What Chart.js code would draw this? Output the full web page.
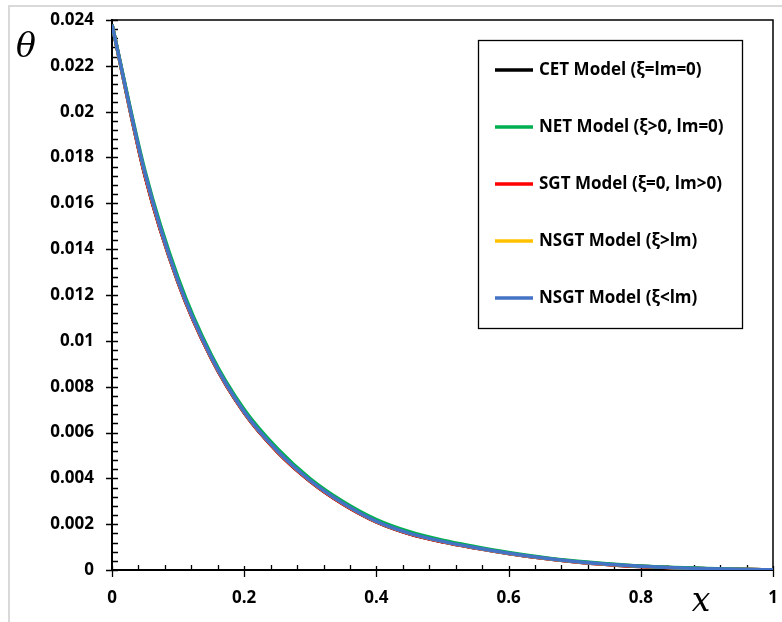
<!DOCTYPE html>
<html>
<head>
<meta charset="utf-8">
<script src="https://cdn.jsdelivr.net/npm/chart.js@4/dist/chart.umd.min.js"></script>
<style>
  html, body { margin: 0; padding: 0; background: #fff; }
  #wrap { position: relative; width: 782px; height: 622px; }
  #frame { position: absolute; left: 8px; top: 5px; right: -10px; bottom: -10px;
           border-left: 2px solid #d9d9d9; border-top: 2px solid #d9d9d9; }
  canvas { position: absolute; left: 0; top: 0; }
</style>
</head>
<body>
<div id="wrap">
  <div id="frame"></div>
  <canvas id="chart" width="782" height="622"></canvas>
</div>
<script>
// Dimensionless position along the body
const xValues = [0, 0.05, 0.1, 0.15, 0.2, 0.25, 0.3, 0.35, 0.4, 0.45, 0.5,
                 0.55, 0.6, 0.65, 0.7, 0.75, 0.8, 0.85, 0.9, 0.95, 1];

// Temperature θ for each thermoelastic model
const cetTheta    = [0.0238, 0.0172, 0.01255, 0.00925, 0.00686, 0.00516, 0.00387, 0.00287, 0.0021, 0.00158, 0.00123,
                     0.00096, 0.00072, 0.00052, 0.00036, 0.00024, 0.00015, 0.0001, 0.00006, 0.00003, 0.00001];
const netTheta    = [0.0238, 0.0174, 0.01275, 0.0094, 0.0070, 0.0053, 0.00398, 0.00298, 0.0022, 0.00167, 0.0013,
                     0.00102, 0.00077, 0.00056, 0.00039, 0.00027, 0.00017, 0.00011, 0.00007, 0.00003, 0.00001];
const sgtTheta    = [0.0238, 0.0172, 0.01255, 0.00925, 0.00686, 0.00516, 0.00387, 0.00287, 0.0021, 0.00158, 0.00123,
                     0.00096, 0.00072, 0.00052, 0.00036, 0.00024, 0.00015, 0.0001, 0.00006, 0.00003, 0.00001];
const nsgtGtTheta = [0.0238, 0.0173, 0.0126, 0.0093, 0.0069, 0.0052, 0.0039, 0.0029, 0.00212, 0.0016, 0.00125,
                     0.00097, 0.00073, 0.00053, 0.00037, 0.00025, 0.00016, 0.0001, 0.00006, 0.00003, 0.00001];
const nsgtLtTheta = [0.0238, 0.0173, 0.0126, 0.0093, 0.0069, 0.0052, 0.0039, 0.0029, 0.00212, 0.0016, 0.00125,
                     0.00097, 0.00073, 0.00053, 0.00037, 0.00025, 0.00016, 0.0001, 0.00006, 0.00003, 0.00001];

const seriesLabels = ['CET Model (ξ=lm=0)', 'NET Model (ξ>0, lm=0)', 'SGT Model (ξ=0, lm>0)',
                      'NSGT Model (ξ>lm)', 'NSGT Model (ξ<lm)'];
const seriesColors = ['#000000', '#00b050', '#ff0000', '#ffc000', '#4472c4'];
const seriesData = [cetTheta, netTheta, sgtTheta, nsgtGtTheta, nsgtLtTheta];
const drawOrder = [4, 1, 3, 2, 0]; // blue on top, green just beneath

const fmt = v => String(Number(Number(v).toFixed(4)));

// Minor/major tick marks, the top/right frame, axis symbols and the boxed legend
const axisMarks = {
  id: 'axisMarks',
  beforeDatasetsDraw(chart) {
    const { ctx, chartArea: a, scales: { x, y } } = chart;
    ctx.save();
    ctx.strokeStyle = '#000';
    ctx.lineWidth = 1.5;
    ctx.beginPath();
    ctx.moveTo(a.left, a.top); ctx.lineTo(a.right, a.top); ctx.lineTo(a.right, a.bottom);
    ctx.stroke();
    ctx.lineWidth = 1.3;
    ctx.beginPath();
    for (let i = 0; i <= 60; i++) {
      const py = Math.round(y.getPixelForValue(i * 0.0004)) + 0.5;
      if (i % 5 === 0) { ctx.moveTo(a.left - 6, py); ctx.lineTo(a.left + 6, py); }
      else { ctx.moveTo(a.left, py); ctx.lineTo(a.left + 6, py); }
    }
    for (let i = 0; i <= 25; i++) {
      const px = Math.round(x.getPixelForValue(i * 0.04)) + 0.5;
      if (i % 5 === 0) { ctx.moveTo(px, a.bottom - 4); ctx.lineTo(px, a.bottom + 7); }
      else { ctx.moveTo(px, a.bottom - 5); ctx.lineTo(px, a.bottom); }
    }
    ctx.stroke();
    ctx.restore();
  },
  afterDraw(chart) {
    const { ctx } = chart;
    ctx.save();
    ctx.fillStyle = '#000';
    ctx.font = 'italic 33px "DejaVu Serif"';
    ctx.textAlign = 'center';
    ctx.textBaseline = 'alphabetic';
    ctx.fillText('θ', 26, 57);
    ctx.fillText('x', 701, 611);

    const bx = 478, by = 40, bw = 264, bh = 288;
    ctx.fillStyle = '#fff';
    ctx.fillRect(bx, by, bw, bh);
    ctx.strokeStyle = '#000';
    ctx.lineWidth = 1.3;
    ctx.strokeRect(bx + 0.5, by + 0.5, bw, bh);
    ctx.font = 'bold 17px "Open Sans"';
    ctx.textAlign = 'left';
    ctx.textBaseline = 'middle';
    chart.data.datasets.forEach((ds, i) => {
      const ry = 70 + i * 57;
      ctx.strokeStyle = ds.borderColor;
      ctx.lineWidth = 3.5;
      ctx.beginPath(); ctx.moveTo(495, ry); ctx.lineTo(533, ry); ctx.stroke();
      ctx.fillStyle = '#000';
      ctx.fillText(ds.label, 539, ry);
    });
    ctx.restore();
  }
};

new Chart(document.getElementById('chart'), {
  type: 'line',
  data: {
    datasets: seriesData.map((arr, i) => ({
      label: seriesLabels[i],
      data: xValues.map((xv, k) => ({ x: xv, y: arr[k] })),
      borderColor: seriesColors[i],
      backgroundColor: seriesColors[i],
      borderWidth: 3.5,
      pointRadius: 0,
      cubicInterpolationMode: 'monotone',
      order: drawOrder[i]
    }))
  },
  options: {
    responsive: false,
    animation: false,
    layout: { padding: { top: 20, right: 9, left: 0, bottom: 0 } },
    plugins: { legend: { display: false }, tooltip: { enabled: false } },
    scales: {
      x: {
        type: 'linear', min: 0, max: 1,
        afterFit: s => { s.height = 52; s.paddingLeft = 0; s.paddingRight = 0; },
        grid: { display: false, drawTicks: false },
        border: { display: true, color: '#000', width: 2 },
        ticks: { stepSize: 0.2, padding: 18, color: '#000', maxRotation: 0,
                 font: { family: 'Open Sans', size: 17, weight: 'bold' }, callback: v => fmt(v) }
      },
      y: {
        type: 'linear', min: 0, max: 0.024,
        afterFit: s => { s.width = 112; s.paddingTop = 0; s.paddingBottom = 0; },
        grid: { display: false, drawTicks: false },
        border: { display: true, color: '#000', width: 2 },
        ticks: { stepSize: 0.002, padding: 18, color: '#000',
                 font: { family: 'Open Sans', size: 17, weight: 'bold' }, callback: v => fmt(v) }
      }
    }
  },
  plugins: [axisMarks]
});
</script>
</body>
</html>
